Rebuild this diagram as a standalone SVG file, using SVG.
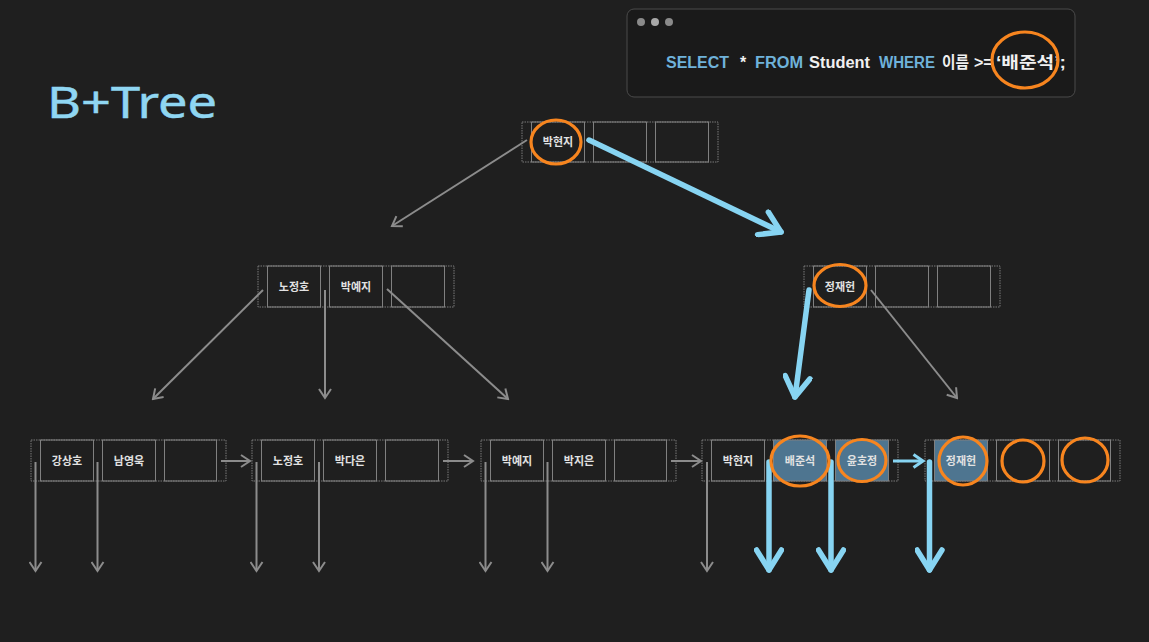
<svg xmlns="http://www.w3.org/2000/svg" width="1149" height="642" viewBox="0 0 1149 642">
<defs>
<style>
.bg{fill:#1f1f1f}
.outer{fill:none;stroke:#7a7a7a;stroke-width:1;stroke-dasharray:1.5 1}
.cell{fill:none;stroke:#808080;stroke-width:1}
.hl{fill:#4e7590;stroke:#808080;stroke-width:1}
.key{font-family:"Noto Sans CJK KR","Noto Sans",sans-serif;font-size:11px;font-weight:700;fill:#e2e2e2;text-anchor:middle}
.g{fill:none;stroke:#8c8c8c;stroke-width:2}
.b{fill:none;stroke:#87d4f2;stroke-width:5.5;stroke-linecap:round}
.bt{fill:none;stroke:#87d4f2;stroke-width:3}
.ring{fill:none;stroke:#f7851f;stroke-width:3.2}
.sql{font-family:"Liberation Sans","Noto Sans CJK KR",sans-serif;font-size:16px;font-weight:700}
.kw{fill:#6fb2da}
.tx{fill:#f0f0f0}
</style>
<marker id="mg" viewBox="0 0 12 14" refX="10" refY="7" markerWidth="12" markerHeight="14" markerUnits="userSpaceOnUse" orient="auto">
<path d="M1,1 L10,7 L1,13" fill="none" stroke="#8c8c8c" stroke-width="2"/>
</marker>
<marker id="mbt" viewBox="0 0 14 16" refX="11" refY="8" markerWidth="14" markerHeight="16" markerUnits="userSpaceOnUse" orient="auto">
<path d="M1.5,1.5 L11,8 L1.5,14.5" fill="none" stroke="#87d4f2" stroke-width="3"/>
</marker>
<marker id="mb" viewBox="0 0 30 30" refX="24" refY="15" markerWidth="30" markerHeight="30" markerUnits="userSpaceOnUse" orient="auto">
<path d="M4,2.5 L24,15 L4,27.5" fill="none" stroke="#87d4f2" stroke-width="5.5" stroke-linecap="round" stroke-linejoin="round"/>
</marker>
</defs>
<rect class="bg" x="0" y="0" width="1149" height="642"/>

<g id="title">
<text x="47" y="118" font-family="Noto Sans, sans-serif" font-size="44" fill="#8fd6f2" stroke="#8fd6f2" stroke-width="0.5" textLength="170" lengthAdjust="spacingAndGlyphs">B+Tree</text>
</g>

<g id="sql-window">
<rect x="627" y="9" width="448" height="88" rx="7" fill="#1a1a1a" stroke="#4a4a4a" stroke-width="1"/>
<circle cx="641" cy="22" r="4" fill="#8a8a8a"/>
<circle cx="655" cy="22" r="4" fill="#a8a8a8"/>
<circle cx="669" cy="22" r="4" fill="#8a8a8a"/>
<text class="sql kw" x="666" y="68" textLength="63" lengthAdjust="spacingAndGlyphs">SELECT</text>
<text class="sql tx" x="740" y="68">*</text>
<text class="sql kw" x="755" y="68" textLength="48" lengthAdjust="spacingAndGlyphs">FROM</text>
<text class="sql tx" x="809" y="68" textLength="61" lengthAdjust="spacingAndGlyphs">Student</text>
<text class="sql kw" x="879" y="68" textLength="56" lengthAdjust="spacingAndGlyphs">WHERE</text>
<text class="sql tx" x="942" y="68" textLength="27" lengthAdjust="spacingAndGlyphs">이름</text>
<text class="sql tx" x="974" y="68">&gt;=</text>
<text class="sql tx" x="996" y="68" textLength="70" lengthAdjust="spacingAndGlyphs">‘배준석’;</text>
</g>

<g id="root">
<rect class="outer" x="522" y="122" width="196" height="40"/>
<rect class="cell" x="531.5" y="122" width="53" height="40"/>
<rect class="cell" x="593.5" y="122" width="53" height="40"/>
<rect class="cell" x="655.5" y="122" width="53" height="40"/>
<text class="key" x="558" y="146">박현지</text>
</g>

<g id="inner-left">
<rect class="outer" x="258" y="266" width="196" height="41"/>
<rect class="cell" x="267.5" y="266" width="53" height="41"/>
<rect class="cell" x="329.5" y="266" width="53" height="41"/>
<rect class="cell" x="391.5" y="266" width="53" height="41"/>
<text class="key" x="294" y="290.5">노정호</text>
<text class="key" x="356" y="290.5">박예지</text>
</g>

<g id="inner-right">
<rect class="outer" x="804" y="266" width="196" height="41"/>
<rect class="cell" x="813.5" y="266" width="53" height="41"/>
<rect class="cell" x="875.5" y="266" width="53" height="41"/>
<rect class="cell" x="937.5" y="266" width="53" height="41"/>
<text class="key" x="840" y="290.5">정재헌</text>
</g>

<g id="leaf1">
<rect class="outer" x="31" y="440" width="195" height="41"/>
<rect class="cell" x="40.5" y="440" width="53" height="41"/>
<rect class="cell" x="102.5" y="440" width="53" height="41"/>
<rect class="cell" x="164.5" y="440" width="52" height="41"/>
<text class="key" x="67" y="465">강상호</text>
<text class="key" x="129" y="465">남영욱</text>
</g>

<g id="leaf2">
<rect class="outer" x="252" y="440" width="196" height="41"/>
<rect class="cell" x="261.5" y="440" width="53" height="41"/>
<rect class="cell" x="323.5" y="440" width="53" height="41"/>
<rect class="cell" x="385.5" y="440" width="53" height="41"/>
<text class="key" x="288" y="465">노정호</text>
<text class="key" x="350" y="465">박다은</text>
</g>

<g id="leaf3">
<rect class="outer" x="481" y="440" width="195" height="41"/>
<rect class="cell" x="490.5" y="440" width="53" height="41"/>
<rect class="cell" x="552.5" y="440" width="53" height="41"/>
<rect class="cell" x="614.5" y="440" width="52" height="41"/>
<text class="key" x="517" y="465">박예지</text>
<text class="key" x="579" y="465">박지은</text>
</g>

<g id="leaf4">
<rect class="outer" x="702" y="440" width="196" height="41"/>
<rect class="cell" x="711.5" y="440" width="53" height="41"/>
<rect class="hl" x="773.5" y="440" width="53" height="41"/>
<rect class="hl" x="835.5" y="440" width="53" height="41"/>
<text class="key" x="738" y="465">박현지</text>
<text class="key" x="800" y="465">배준석</text>
<text class="key" x="862" y="465">윤호정</text>
</g>

<g id="leaf5">
<rect class="outer" x="925" y="440" width="195" height="41"/>
<rect class="hl" x="934.5" y="440" width="53" height="41"/>
<rect class="cell" x="996.5" y="440" width="53" height="41"/>
<rect class="cell" x="1058.5" y="440" width="52" height="41"/>
<text class="key" x="961" y="465">정재헌</text>
</g>

<g id="connectors">
<line class="g" x1="527" y1="140" x2="392" y2="226" marker-end="url(#mg)"/>
<line class="b" x1="589" y1="140" x2="781" y2="232" marker-end="url(#mb)"/>
<line class="g" x1="263" y1="290" x2="153" y2="399" marker-end="url(#mg)"/>
<line class="g" x1="325" y1="290" x2="325" y2="398" marker-end="url(#mg)"/>
<line class="g" x1="387" y1="289" x2="508" y2="399" marker-end="url(#mg)"/>
<line class="b" x1="809" y1="290" x2="795" y2="397" marker-end="url(#mb)"/>
<line class="g" x1="871" y1="290" x2="957" y2="398" marker-end="url(#mg)"/>
<line class="g" x1="221" y1="461" x2="250" y2="461" marker-end="url(#mg)"/>
<line class="g" x1="443" y1="461" x2="473" y2="461" marker-end="url(#mg)"/>
<line class="g" x1="671" y1="461" x2="701" y2="461" marker-end="url(#mg)"/>
<line class="bt" x1="893" y1="461" x2="923" y2="461" marker-end="url(#mbt)"/>
<line class="g" x1="35.5" y1="462" x2="35.5" y2="571" marker-end="url(#mg)"/>
<line class="g" x1="97.5" y1="462" x2="97.5" y2="571" marker-end="url(#mg)"/>
<line class="g" x1="256.5" y1="462" x2="256.5" y2="571" marker-end="url(#mg)"/>
<line class="g" x1="319" y1="462" x2="319" y2="571" marker-end="url(#mg)"/>
<line class="g" x1="485.5" y1="462" x2="485.5" y2="571" marker-end="url(#mg)"/>
<line class="g" x1="547.5" y1="462" x2="547.5" y2="571" marker-end="url(#mg)"/>
<line class="g" x1="707" y1="462" x2="707" y2="571" marker-end="url(#mg)"/>
<line class="b" x1="769" y1="462" x2="769" y2="570" marker-end="url(#mb)"/>
<line class="b" x1="831" y1="462" x2="831" y2="570" marker-end="url(#mb)"/>
<line class="b" x1="929.5" y1="462" x2="929.5" y2="570" marker-end="url(#mb)"/>
</g>

<g id="highlights">
<ellipse class="ring" cx="1025" cy="60" rx="33" ry="28"/>
<ellipse class="ring" cx="556" cy="142" rx="25" ry="22"/>
<ellipse class="ring" cx="840" cy="285.5" rx="26" ry="21"/>
<ellipse class="ring" cx="800" cy="461" rx="29" ry="25"/>
<ellipse class="ring" cx="862" cy="460.5" rx="24" ry="21"/>
<ellipse class="ring" cx="963" cy="461" rx="24" ry="24"/>
<ellipse class="ring" cx="1023" cy="461" rx="21" ry="21"/>
<ellipse class="ring" cx="1085" cy="460" rx="23" ry="22"/>
</g>
</svg>
